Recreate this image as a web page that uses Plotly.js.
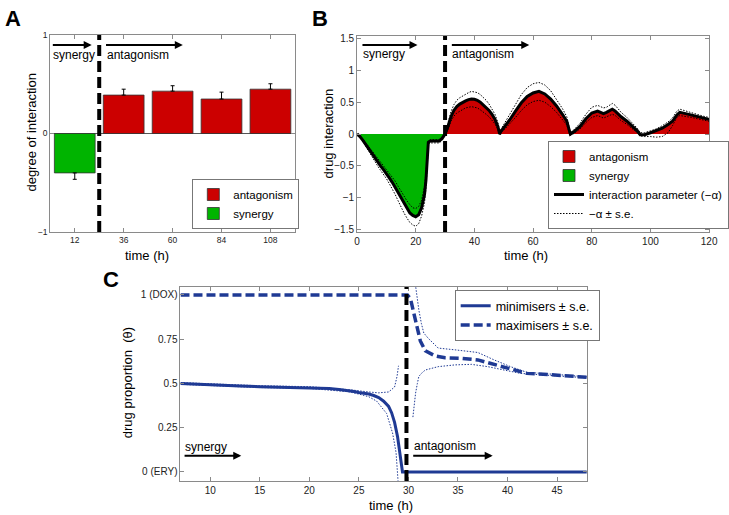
<!DOCTYPE html>
<html><head><meta charset="utf-8">
<script src="https://cdn.plot.ly/plotly-3.0.1.min.js"></script>
<style>html,body{margin:0;padding:0;background:#fff;overflow:hidden}#chart{width:729px;height:515px}</style>
</head><body><div id="chart"></div>
<script>
// ---------- Panel A data ----------
const timesA = [12, 36, 60, 84, 108];
const synergyTimesA = [12];
const synergyValuesA = [-0.40];
const synergyErrA = [0.065];
const antagTimesA = [36, 60, 84, 108];
const antagValuesA = [0.39, 0.43, 0.35, 0.45];
const antagErrA = [0.06, 0.055, 0.07, 0.055];

// ---------- Panel B data ----------
const tB = [0,1,2,3,4,5,6,7,8,9,10,11,12,13,14,15,16,17,18,19,20,21,22,23,23.5,24,24.3,25,26,27,28,29,30,
  31,32,33,34,35,36,37,38,39,40,41,42,43,44,45,46,47,48,48.6,
  49,50,52,54,56,58,60,62,64,66,68,70,71.5,72.2,72.7,
  74,76,78,80,82,84,85,87,88,90,92,94,95.5,96.5,98,100,102,104,106,107.5,109,110,112,114,116,118,120];
const alphaB = [0,-0.04,-0.1,-0.17,-0.23,-0.3,-0.37,-0.44,-0.5,-0.56,-0.62,-0.69,-0.76,-0.84,-0.93,-1.02,-1.1,-1.18,-1.24,-1.28,-1.3,-1.27,-1.16,-0.95,-0.72,-0.35,-0.13,-0.11,-0.11,-0.12,-0.11,-0.07,0,
  0.12,0.27,0.37,0.43,0.47,0.5,0.52,0.54,0.55,0.545,0.53,0.5,0.46,0.42,0.37,0.31,0.23,0.12,0,
  0.04,0.1,0.22,0.36,0.49,0.59,0.645,0.67,0.63,0.55,0.44,0.31,0.2,0.08,0,
  0.04,0.12,0.24,0.33,0.36,0.32,0.34,0.39,0.36,0.27,0.2,0.12,0.05,-0.01,-0.01,0.02,0.05,0.09,0.15,0.2,0.3,0.34,0.32,0.3,0.27,0.25,0.23];
const upperB = [0,-0.03,-0.08,-0.14,-0.2,-0.26,-0.32,-0.38,-0.44,-0.5,-0.55,-0.61,-0.67,-0.74,-0.82,-0.9,-0.98,-1.05,-1.11,-1.16,-1.17,-1.14,-1.04,-0.82,-0.6,-0.25,-0.1,-0.09,-0.09,-0.1,-0.09,-0.05,0.01,
  0.17,0.35,0.46,0.53,0.57,0.6,0.63,0.65,0.67,0.665,0.65,0.62,0.58,0.53,0.47,0.4,0.31,0.18,0.03,
  0.07,0.15,0.3,0.46,0.62,0.73,0.79,0.81,0.77,0.68,0.55,0.4,0.27,0.12,0.02,
  0.07,0.17,0.31,0.42,0.45,0.41,0.42,0.48,0.45,0.34,0.26,0.17,0.09,0.02,0.02,0.05,0.08,0.13,0.19,0.25,0.36,0.39,0.36,0.33,0.3,0.28,0.26];
const lowerB = [0,-0.05,-0.12,-0.2,-0.27,-0.34,-0.42,-0.5,-0.57,-0.63,-0.7,-0.78,-0.86,-0.95,-1.05,-1.15,-1.24,-1.32,-1.39,-1.43,-1.45,-1.41,-1.29,-1.08,-0.85,-0.45,-0.16,-0.14,-0.14,-0.15,-0.14,-0.1,-0.02,
  0.07,0.2,0.28,0.33,0.36,0.39,0.41,0.42,0.43,0.42,0.41,0.38,0.35,0.31,0.27,0.22,0.16,0.07,-0.02,
  0.01,0.06,0.15,0.26,0.37,0.46,0.51,0.53,0.5,0.43,0.34,0.23,0.14,0.04,-0.02,
  0.01,0.08,0.18,0.26,0.29,0.25,0.27,0.31,0.29,0.21,0.15,0.08,0.02,-0.03,-0.04,-0.04,-0.05,-0.04,0.02,0.13,0.26,0.29,0.28,0.26,0.24,0.22,0.2];

// ---------- Panel C data ----------
const tMin = [7,9,11,13,15,17,19,21,22,23,24,24.5,25,25.5,26,26.5,27,27.5,28,28.3,28.6,28.9,29.1,29.25,29.4,32,36,40,44,48];
const minVal = [0.5,0.494,0.489,0.485,0.482,0.48,0.479,0.476,0.472,0.466,0.46,0.455,0.449,0.445,0.44,0.432,0.42,0.4,0.37,0.335,0.28,0.2,0.12,0.05,0,0,0,0,0,0];
const tMinUp = [7,15,20,24,26,27,28,28.6,28.85,29.0];
const minUp = [0.505,0.487,0.482,0.465,0.452,0.447,0.452,0.48,0.54,0.6];
const tMinLo = [7,15,20,24,25,26,26.8,27.8,28.4,28.75,28.95];
const minLo = [0.495,0.477,0.472,0.453,0.44,0.425,0.4,0.33,0.22,0.11,-0.05];
const tMax = [7,29.9,30.2,30.55,30.9,31.2,31.7,32.7,33.7,35.35,37,38.65,40.3,41.95,43.6,45.3,48];
const maxVal = [1,1,0.98,0.9,0.8,0.74,0.685,0.655,0.645,0.642,0.633,0.608,0.585,0.557,0.552,0.544,0.535];
const tMaxUp = [30.7,30.85,31.05,31.3,31.55,32,32.4,33,34.7,37,38.65,40.3,41.95,43.6,45.3,48];
const maxUp = [1.06,0.99,0.915,0.84,0.785,0.755,0.735,0.7,0.69,0.675,0.633,0.595,0.563,0.556,0.547,0.538];
const tMaxLo = [30.45,30.6,30.72,30.9,31.05,31.4,31.7,33,34.7,36.35,38,39.65,41.3,43.6,45.3,48];
const maxLo = [0.31,0.39,0.445,0.5,0.54,0.562,0.576,0.595,0.605,0.608,0.595,0.576,0.557,0.548,0.541,0.532];
const tickValsC = [0, 0.25, 0.5, 0.75, 1];
const tickTextC = ['0 (ERY)', '0.25', '0.5', '0.75', '1 (DOX)'];

// ---------- styling ----------
const RED = '#cc0000', GREEN = '#00b400', NAVY = '#1f3a94';
const FONT = 'Liberation Sans, Arial, Helvetica, sans-serif';
const W = 729, H = 515;
const px = v => v / W, py = v => 1 - v / H;

const traces = [];
// A
traces.push({type:'bar', x: antagTimesA, y: antagValuesA, width: 20, name: 'antagonism',
  marker:{color: RED, line:{color:'#333', width:0.8}},
  error_y:{type:'data', symmetric:false, array: antagErrA, arrayminus: antagErrA.map(() => 0), color:'#000', thickness:1, width:2},
  xaxis:'x', yaxis:'y', legend:'legend', hoverinfo:'skip'});
traces.push({type:'bar', x: synergyTimesA, y: synergyValuesA, width: 20, name: 'synergy',
  marker:{color: GREEN, line:{color:'#333', width:0.8}},
  error_y:{type:'data', symmetric:false, array: synergyErrA.map(() => 0), arrayminus: synergyErrA, color:'#000', thickness:1, width:2},
  xaxis:'x', yaxis:'y', legend:'legend', hoverinfo:'skip'});
// B
traces.push({type:'scatter', mode:'lines', x: tB, y: alphaB.map(v => Math.max(v, 0)), fill:'tozeroy', fillcolor: RED,
  line:{width:0, color: RED}, showlegend:false, xaxis:'x2', yaxis:'y2', hoverinfo:'skip'});
traces.push({type:'scatter', mode:'lines', x: tB, y: alphaB.map(v => Math.min(v, 0)), fill:'tozeroy', fillcolor: GREEN,
  line:{width:0, color: GREEN}, showlegend:false, xaxis:'x2', yaxis:'y2', hoverinfo:'skip'});
traces.push({type:'scatter', mode:'lines', x: tB, y: upperB, name:'−α ± s.e.', line:{color:'#000', width:1, dash:'1.5px,1.5px'},
  xaxis:'x2', yaxis:'y2', legend:'legend2', legendrank:4, hoverinfo:'skip'});
traces.push({type:'scatter', mode:'lines', x: tB, y: lowerB, showlegend:false, line:{color:'#000', width:1, dash:'1.5px,1.5px'},
  xaxis:'x2', yaxis:'y2', hoverinfo:'skip'});
traces.push({type:'scatter', mode:'lines', x: tB, y: alphaB, name:'interaction parameter (−α)', line:{color:'#000', width:3},
  xaxis:'x2', yaxis:'y2', legend:'legend2', legendrank:3, hoverinfo:'skip'});
traces.push({type:'bar', x:[null], y:[null], name:'antagonism', marker:{color: RED, line:{color:'#333', width:0.8}},
  xaxis:'x2', yaxis:'y2', legend:'legend2', legendrank:1, hoverinfo:'skip'});
traces.push({type:'bar', x:[null], y:[null], name:'synergy', marker:{color: GREEN, line:{color:'#333', width:0.8}},
  xaxis:'x2', yaxis:'y2', legend:'legend2', legendrank:2, hoverinfo:'skip'});
// C
const seLine = {color: NAVY, width:1, dash:'1.5px,1.5px'};
traces.push({type:'scatter', mode:'lines', x: tMinUp, y: minUp, line: seLine, showlegend:false, xaxis:'x3', yaxis:'y3', hoverinfo:'skip'});
traces.push({type:'scatter', mode:'lines', x: tMinLo, y: minLo, line: seLine, showlegend:false, xaxis:'x3', yaxis:'y3', hoverinfo:'skip'});
traces.push({type:'scatter', mode:'lines', x: tMaxUp, y: maxUp, line: seLine, showlegend:false, xaxis:'x3', yaxis:'y3', hoverinfo:'skip'});
traces.push({type:'scatter', mode:'lines', x: tMaxLo, y: maxLo, line: seLine, showlegend:false, xaxis:'x3', yaxis:'y3', hoverinfo:'skip'});
traces.push({type:'scatter', mode:'lines', x: tMin, y: minVal, name:'minimisers ± s.e.', line:{color: NAVY, width:3},
  xaxis:'x3', yaxis:'y3', legend:'legend3', hoverinfo:'skip'});
traces.push({type:'scatter', mode:'lines', x: tMax, y: maxVal, name:'maximisers ± s.e.', line:{color: NAVY, width:3.5, dash:'9px,4px'},
  xaxis:'x3', yaxis:'y3', legend:'legend3', hoverinfo:'skip'});

const axBase = {showgrid:false, zeroline:false, showline:true, linecolor:'#8a8a8a', linewidth:1, mirror:'ticks',
  ticks:'inside', ticklen:4, tickcolor:'#8a8a8a', tickfont:{family: FONT, size:10, color:'#222'}, fixedrange:true};

const dashLine = (xr, yr, xv) => ({type:'line', xref: xr, yref: yr + ' domain', x0: xv, x1: xv, y0: 0, y1: 1,
  line:{color:'#000', width:4, dash:'11px,5px'}});

const arrow = (xr, yr, x0, x1, y) => ({xref: xr, yref: yr, axref: xr, ayref: yr, x: x1, y: y, ax: x0, ay: y,
  text:'', showarrow:true, arrowhead:2, arrowsize:0.8, arrowwidth:2, arrowcolor:'#000'});
const label = (xr, yr, x, y, t) => ({xref: xr, yref: yr, x: x, y: y, text: t, showarrow:false, xanchor:'left', yanchor:'middle',
  font:{family: FONT, size:12, color:'#000'}});
const ptext = (x, y, t, opts) => Object.assign({xref:'paper', yref:'paper', x: px(x), y: py(y), text: t, showarrow:false,
  xanchor:'center', yanchor:'middle', font:{family: FONT, size:13, color:'#000'}}, opts || {});

const legBase = {bgcolor:'#fff', bordercolor:'#777', borderwidth:1, xanchor:'left', itemwidth:30, tracegroupgap:0,
  font:{family: FONT, size:11.5, color:'#000'}};

const layout = {
  width: W, height: H, margin:{l:0, r:0, t:0, b:0, pad:0}, paper_bgcolor:'#fff', plot_bgcolor:'#fff',
  barmode:'overlay', showlegend:true,
  font:{family: FONT},
  xaxis: Object.assign({}, axBase, {domain:[px(51), px(299)], range:[0,120], tickvals: timesA, anchor:'y',
    tickfont:{family: FONT, size:8.5, color:'#222'}}),
  yaxis: Object.assign({}, axBase, {domain:[py(232), py(35)], range:[-1,1], tickvals:[-1,0,1], ticktext:['−1','0','1'], anchor:'x',
    zeroline:true, zerolinecolor:'#555', zerolinewidth:1, tickfont:{family: FONT, size:8.5, color:'#222'}}),
  xaxis2: Object.assign({}, axBase, {domain:[px(362), px(719)], range:[0,120], dtick:20, tick0:0, anchor:'y2'}),
  yaxis2: Object.assign({}, axBase, {domain:[py(232), py(36)], range:[-1.54,1.54], tickvals:[-1.5,-1,-0.5,0,0.5,1,1.5],
    ticktext:['−1.5','−1','−0.5','0','0.5','1','1.5'], anchor:'x2'}),
  xaxis3: Object.assign({}, axBase, {domain:[px(183), px(595)], range:[7,48], tickvals:[10,15,20,25,30,35,40,45], anchor:'y3'}),
  yaxis3: Object.assign({}, axBase, {domain:[py(481), py(287)], range:[-0.051,1.045], tickvals: tickValsC, ticktext: tickTextC, anchor:'x3'}),
  legend: Object.assign({}, legBase, {x: px(195), y: py(229), yanchor:'bottom'}),
  legend2: Object.assign({}, legBase, {x: px(556), y: py(229), yanchor:'bottom'}),
  legend3: Object.assign({}, legBase, {x: px(461), y: py(290), yanchor:'top', font:{family: FONT, size:12.5, color:'#000'}}),
  shapes: [dashLine('x','y',24), dashLine('x2','y2',30), dashLine('x3','y3',29.8)],
  annotations: [
    arrow('x','y',0.5,20.3,0.898), label('x','y',0.5,0.797,'synergy'),
    arrow('x','y',26.6,65,0.898), label('x','y',26.6,0.797,'antagonism'),
    arrow('x2','y2',1.34,20.6,1.397), label('x2','y2',1.34,1.26,'synergy'),
    arrow('x2','y2',31.8,58.7,1.397), label('x2','y2',31.8,1.26,'antagonism'),
    arrow('x3','y3',7.26,13.13,0.092), label('x3','y3',7.26,0.143,'synergy'),
    arrow('x3','y3',30.33,38.5,0.092), label('x3','y3',30.33,0.149,'antagonism'),
    ptext(149, 255, 'time (h)'),
    ptext(31, 132, 'degree of interaction', {textangle:-90}),
    ptext(533, 255, 'time (h)'),
    ptext(334, 133, 'drug interaction', {textangle:-90}),
    ptext(396, 505, 'time (h)'),
    ptext(129, 383, 'drug proportion\u00a0 (θ)', {textangle:-90}),
    ptext(3, 4, '<b>A</b>', {xanchor:'left', yanchor:'top', font:{family: FONT, size:22, color:'#000'}}),
    ptext(314, 4, '<b>B</b>', {xanchor:'left', yanchor:'top', font:{family: FONT, size:22, color:'#000'}}),
    ptext(102, 265, '<b>C</b>', {xanchor:'left', yanchor:'top', font:{family: FONT, size:22, color:'#000'}})
  ]
};

Plotly.newPlot('chart', traces, layout, {staticPlot:true, displayModeBar:false});
</script></body></html>
